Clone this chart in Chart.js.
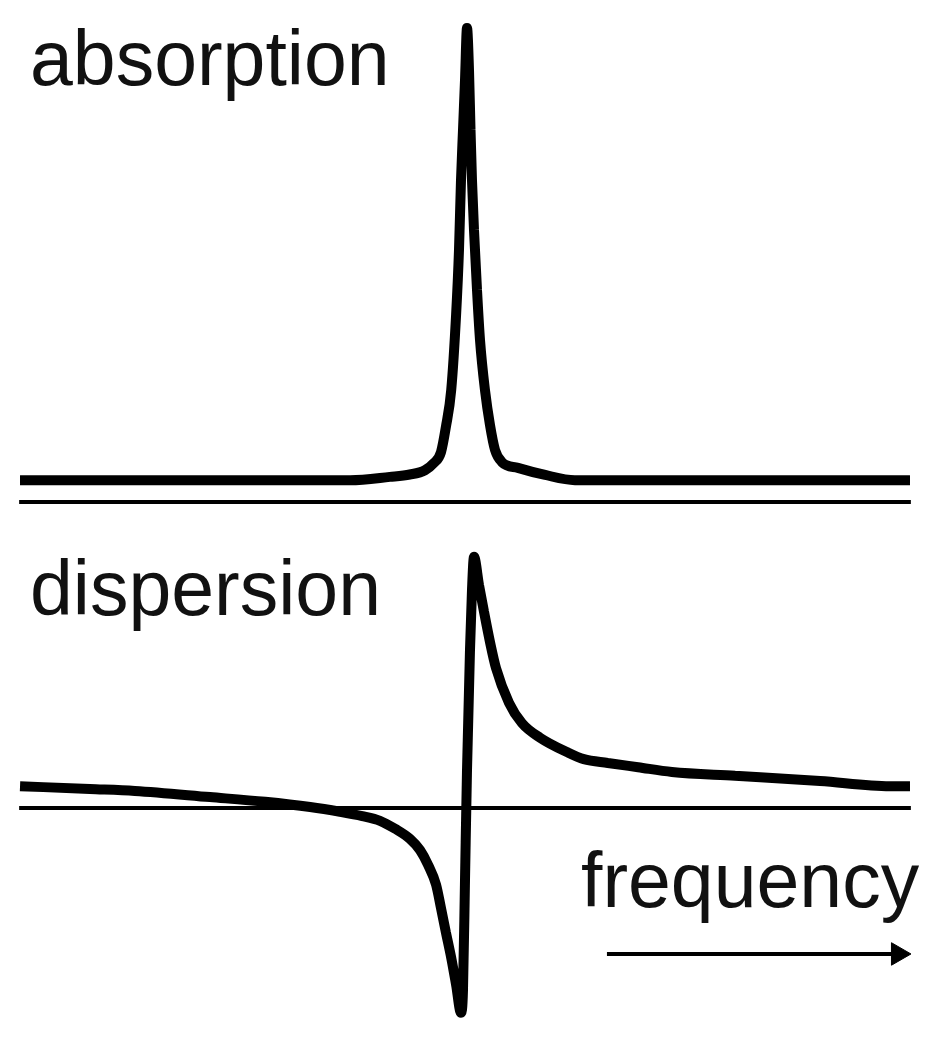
<!DOCTYPE html>
<html>
<head>
<meta charset="utf-8">
<title>absorption / dispersion</title>
<script src="https://cdn.jsdelivr.net/npm/chart.js@4/dist/chart.umd.min.js"></script>
<style>
  html, body { margin: 0; padding: 0; background: #fff; }
  .wrap { position: relative; width: 930px; height: 1040px; overflow: hidden; }
  canvas { position: absolute; left: 0; }
  #absChart { top: 0; }
  #dispChart { top: 520px; }
  .label {
    position: absolute;
    font-family: "Liberation Sans", Arial, sans-serif;
    font-size: 77px;
    line-height: 77px;
    color: #111;
    white-space: nowrap;
  }
</style>
</head>
<body>
<div class="wrap">
  <canvas id="absChart" width="930" height="520"></canvas>
  <canvas id="dispChart" width="930" height="520"></canvas>
  <div class="label" style="left:30px; top:20px;">absorption</div>
  <div class="label" style="left:30px; top:550px;">dispersion</div>
  <div class="label" style="left:581px; top:842px;">frequency</div>
</div>

<script>
  // ===== Data (detuning in arbitrary units, signal with peak = 100) =====
  const axisFreq = [-100.2, 100.2];
  const axisValue = [0, 0];

  const absorptionFreq = [-100, -25.8, -16.9, -12.4, -9.0, -7.0, -5.4, -4.3, -3.1, -2.0,
    -1.35, -0.9, -0.45, 0, 0.45, 0.9, 1.24, 1.57, 2.02, 2.70,
    3.37, 4.49, 5.62, 6.74, 8.31, 11.9, 18.0, 24.7, 100];
  const absorptionValue = [4.6, 4.6, 5.3, 5.8, 6.7, 8.2, 10.5, 15.8, 23.6, 39.5,
    53.2, 67.9, 78.5, 89.0, 100, 91.1, 78.5, 67.9, 57.4, 44.7,
    34.2, 23.6, 16.2, 11.0, 8.4, 7.2, 5.7, 4.6, 4.6];

  const dispersionFreq = [-100, -84.3, -74.2, -57.3, -44.9, -34.8, -28.1, -23.1, -19.1, -15.7,
    -12.4, -10.1, -8.3, -6.5, -5.4, -4.3, -3.1, -2.0, -0.9, -0.45,
    0, 0.45, 1.12, 1.57, 2.02, 3.15, 4.27, 5.62, 6.97, 9.89,
    12.8, 16.9, 22.9, 26.7, 32.1, 38.9, 46.5, 60.7, 79.8, 95.5, 100];
  const dispersionValue = [4.6, 4.0, 3.6, 2.3, 1.3, 0.2, -0.8, -1.7, -2.7, -4.4,
    -6.5, -8.9, -12.0, -16.2, -21.1, -26.2, -31.6, -37.3, -43.2, -38.4,
    -15.2, 8.0, 33.3, 46.0, 53.0, 47.0, 41.4, 35.0, 29.5, 22.2,
    17.9, 14.8, 11.8, 10.3, 9.5, 8.6, 7.6, 6.8, 5.7, 4.6, 4.6];

  // frequency arrow under the lower panel
  const arrowFreq = [31.9, 97.3];
  const arrowValue = [-30.8, -30.8];

  // ===== Helpers =====
  const toPoints = (xs, ys) => xs.map((x, i) => ({ x: x, y: ys[i] }));

  function baseOptions(yMin, yMax) {
    return {
      responsive: false,
      animation: false,
      devicePixelRatio: 1,
      events: [],
      layout: { padding: 0, autoPadding: false },
      plugins: { legend: { display: false }, tooltip: { enabled: false } },
      elements: { point: { radius: 0 } },
      scales: {
        x: { type: 'linear', min: -104.5, max: 104.5, display: false },
        y: { type: 'linear', min: yMin, max: yMax, display: false }
      }
    };
  }

  function axisDataset() {
    return {
      data: toPoints(axisFreq, axisValue),
      borderColor: '#000',
      borderWidth: 4,
      pointRadius: 0
    };
  }

  function curveDataset(xs, ys) {
    return {
      data: toPoints(xs, ys),
      borderColor: '#000',
      borderWidth: 10,
      borderJoinStyle: 'bevel',
      cubicInterpolationMode: 'monotone',
      pointRadius: 0
    };
  }

  // ===== Charts =====
  new Chart(document.getElementById('absChart'), {
    type: 'line',
    data: { datasets: [axisDataset(), curveDataset(absorptionFreq, absorptionValue)] },
    options: baseOptions(-3.8, 105.9)
  });

  new Chart(document.getElementById('dispChart'), {
    type: 'line',
    data: {
      datasets: [
        axisDataset(),
        curveDataset(dispersionFreq, dispersionValue),
        {
          data: toPoints(arrowFreq, arrowValue),
          borderColor: '#000',
          borderWidth: 4,
          pointStyle: 'triangle',
          pointRotation: 90,
          pointRadius: [0, 13],
          pointBackgroundColor: '#000',
          pointBorderColor: '#000',
          pointBorderWidth: 1
        }
      ]
    },
    options: baseOptions(-48.95, 60.76)
  });
</script>
</body>
</html>
